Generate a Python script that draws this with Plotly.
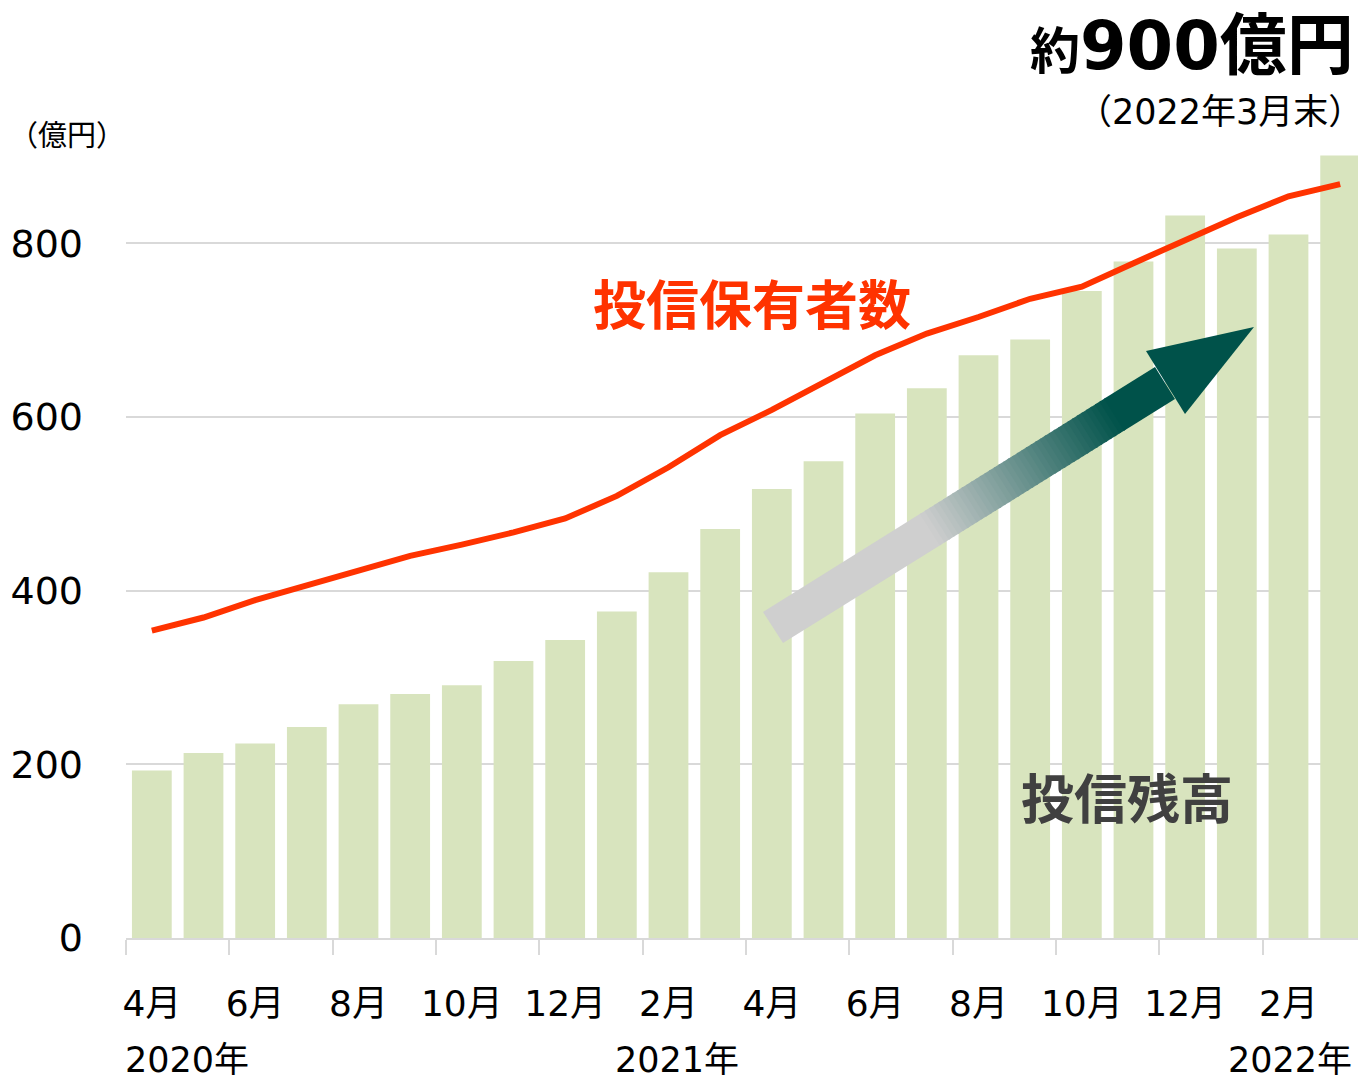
import plotly.graph_objects as go

# 投信残高 (億円) 2020年4月〜2022年3月
months = ["4月", "5月", "6月", "7月", "8月", "9月", "10月", "11月", "12月", "1月", "2月", "3月",
          "4月", "5月", "6月", "7月", "8月", "9月", "10月", "11月", "12月", "1月", "2月", "3月"]
balance = [193, 213, 224, 243, 269, 281, 291, 319, 343, 376, 421, 471,
           517, 549, 604, 633, 671, 689, 745, 779, 832, 794, 810, 901]
# 投信保有者数 (same visual scale)
holders = [354, 369, 389, 406, 422, 440, 453, 467, 483, 509, 542, 579,
           608, 639, 671, 696, 715, 736, 750, 777, 803, 830, 854, 868]
tick_labels = ["4月", "6月", "8月", "10月", "12月", "2月", "4月", "6月", "8月", "10月", "12月", "2月"]
year_labels = ["2020年", "2021年", "2022年"]

FONT = "DejaVu Sans, Noto Sans CJK JP"
BOLD_FONT = "Noto Sans CJK JP"
OFF = 8  # page offset of the plot div
W, H = 1366 - OFF, 1083 - OFF
L, R, T = 126 - OFF, 0, 152 - OFF
B = H - (938 - OFF)
Y_MAX = 905
n = len(balance)
x = list(range(n))

bar_step = (W - L - R) / n
y_scale = (H - T - B) / Y_MAX


# reference-pixel -> data / paper helpers (decorations only)
def to_data(px, py):
    px, py = px - OFF, py - OFF
    return (px - L) / bar_step - 0.5, (H - B - py) / y_scale


def to_paper(px, py):
    px, py = px - OFF, py - OFF
    return (px - L) / (W - L - R), (H - B - py) / (H - T - B)


fig = go.Figure()

fig.add_trace(go.Bar(
    x=x, y=balance,
    marker=dict(color="#D8E4BE", line=dict(width=0)),
    width=0.77,
    hoverinfo="y"
))

fig.add_trace(go.Scatter(
    x=x, y=holders,
    mode="lines",
    line=dict(color="#FF3300", width=6),
    hoverinfo="skip"
))

# gradient arrow (gray -> dark green) built from thin slices
shapes = []
A, Bp = (763, 612), (783, 643)      # tail upper / lower
C, D = (1155, 367), (1175, 399)     # shaft end upper / lower
gray = (207, 207, 207)
green = (0, 82, 74)


def lerp(p, q, t):
    return (p[0] + (q[0] - p[0]) * t, p[1] + (q[1] - p[1]) * t)


def color_at(t):
    s = min(max((t - 0.40) / (0.87 - 0.40), 0), 1)
    c = [round(gray[i] + (green[i] - gray[i]) * s) for i in range(3)]
    return "rgb(%d,%d,%d)" % tuple(c)


def poly(points, color):
    pts = [to_data(*p) for p in points]
    path = "M " + " L ".join("%.4f,%.4f" % p for p in pts) + " Z"
    return dict(type="path", path=path, xref="x", yref="y",
                fillcolor=color, line=dict(width=0), layer="above")


edges = [0, 0.40]
steps = 40
for i in range(1, steps + 1):
    edges.append(0.40 + (0.87 - 0.40) * i / steps)
edges.append(1.0)
for i in range(len(edges) - 1):
    t0, t1 = edges[i], min(edges[i + 1] + 0.004, 1.0)
    tm = (edges[i] + edges[i + 1]) / 2
    shapes.append(poly([lerp(A, C, t0), lerp(A, C, t1), lerp(Bp, D, t1), lerp(Bp, D, t0)],
                       color_at(tm)))
# arrow head
shapes.append(poly([(1146, 351), (1254, 327), (1185, 414)], "rgb(0,82,74)"))


def note(text, px, py, anchor, size, color="#000000", family=FONT, bold=False):
    xp, yp = to_paper(px, py)
    return dict(x=xp, y=yp, xref="paper", yref="paper", xanchor=anchor, yanchor="middle",
                text=text, showarrow=False, borderpad=0,
                font=dict(family=family, size=size, color=color,
                          weight="bold" if bold else "normal"))


annotations = [
    note("<span style='font-size:50px'>約</span>900億円", 1355, 46, "right", 67, bold=True),
    note("（2022年3月末）", 1364, 112, "right", 35),
    note("（億円）", 8, 133, "left", 29, family=BOLD_FONT),
    note("投信保有者数", 752, 302, "center", 53, "#FF3300", BOLD_FONT, True),
    note("投信残高", 1127, 796, "center", 53, "#404040", BOLD_FONT, True),
]
for label, cx in zip(year_labels, [187, 677, 1290]):
    annotations.append(note(label, cx, 1060, "center", 35))

fig.update_layout(
    width=W, height=H,
    margin=dict(l=L, r=R, t=T, b=B),
    plot_bgcolor="white",
    paper_bgcolor="white",
    showlegend=False,
    bargap=0.23,
    shapes=shapes,
    annotations=annotations,
    xaxis=dict(
        range=[-0.5, n - 0.5],
        tickmode="array",
        tickvals=list(range(0, n, 2)),
        ticktext=tick_labels,
        ticks="",
        ticklabelstandoff=33,
        tickfont=dict(family=FONT, size=36, color="#000000"),
        showgrid=False,
        showline=True, linecolor="#D9D9D9", linewidth=2,
        zeroline=False,
        minor=dict(tickmode="array", tickvals=[i - 0.5 for i in range(0, n + 1, 2)],
                   ticks="outside", ticklen=15, tickcolor="#D9D9D9", tickwidth=2,
                   showgrid=False),
        fixedrange=True
    ),
    yaxis=dict(
        range=[0, Y_MAX],
        tickvals=[0, 200, 400, 600, 800],
        ticks="",
        ticklabelstandoff=42,
        tickfont=dict(family=FONT, size=38, color="#000000"),
        showgrid=True, gridcolor="#D9D9D9", gridwidth=2,
        zeroline=False,
        showline=False,
        fixedrange=True
    )
)

fig.write_html("out.html")
